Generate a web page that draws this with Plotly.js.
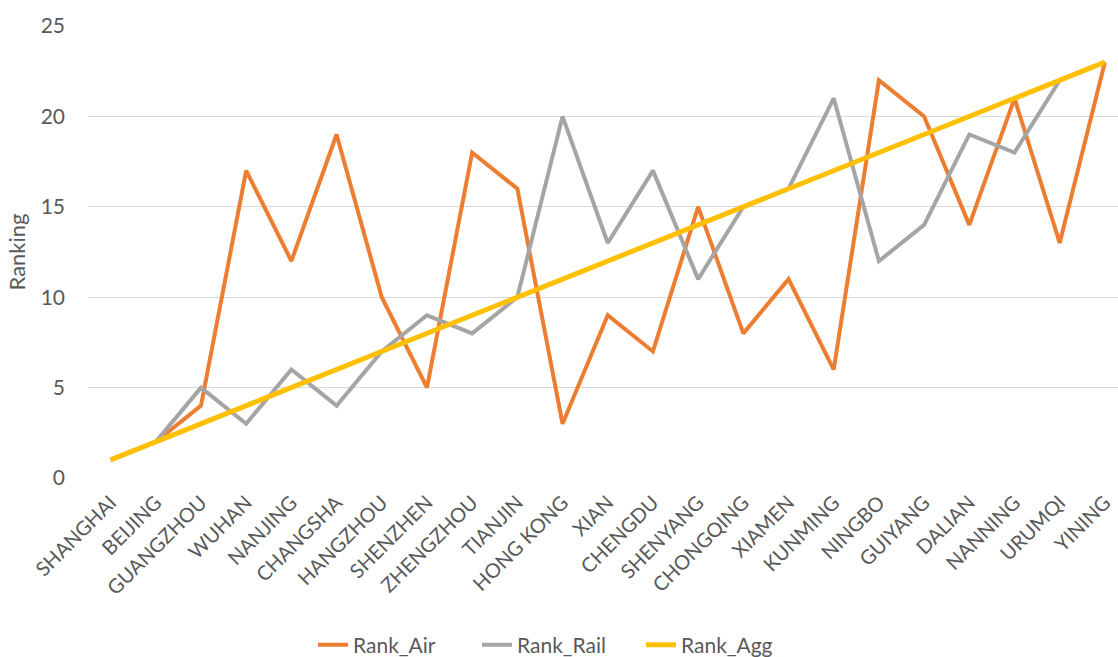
<!DOCTYPE html>
<html>
<head>
<meta charset="utf-8">
<script src="https://cdn.plot.ly/plotly-3.0.1.min.js"></script>
<style>html,body{margin:0;padding:0;background:#fff;}#chart{width:1118px;height:657px;}</style>
</head>
<body>
<div id="chart"></div>
<script>
const cities = ["SHANGHAI","BEIJING","GUANGZHOU","WUHAN","NANJING","CHANGSHA","HANGZHOU","SHENZHEN","ZHENGZHOU","TIANJIN","HONG KONG","XIAN","CHENGDU","SHENYANG","CHONGQING","XIAMEN","KUNMING","NINGBO","GUIYANG","DALIAN","NANNING","URUMQI","YINING"];
const rankAir  = [1,2,4,17,12,19,10,5,18,16,3,9,7,15,8,11,6,22,20,14,21,13,23];
const rankRail = [1,2,5,3,6,4,7,9,8,10,20,13,17,11,15,16,21,12,14,19,18,22,23];
const rankAgg  = [1,2,3,4,5,6,7,8,9,10,11,12,13,14,15,16,17,18,19,20,21,22,23];

const font = "Lato, 'Open Sans', sans-serif";
const traces = [
  {x: cities, y: rankAir, name: "Rank_Air", type: "scatter", mode: "lines", line: {color: "#ED7D31", width: 4}},
  {x: cities, y: rankRail, name: "Rank_Rail", type: "scatter", mode: "lines", line: {color: "#A5A5A5", width: 4}},
  {x: cities, y: rankAgg, name: "Rank_Agg", type: "scatter", mode: "lines", line: {color: "#FFC000", width: 5}}
];
const layout = {
  width: 1118, height: 657,
  paper_bgcolor: "#fff", plot_bgcolor: "#fff",
  margin: {l: 88, r: 0, t: 25.5, b: 178.7, autoexpand: false},
  font: {family: font, size: 20, color: "#595959"},
  showlegend: true,
  legend: {orientation: "h", xref: "container", yref: "container", x: 0.500, xanchor: "center", y: 0.018, yanchor: "middle", font: {size: 21, color: "#595959"}, traceorder: "normal", entrywidth: 119, entrywidthmode: "pixels"},
  xaxis: {type: "category", range: [-0.5, 22.29], tickangle: -45, showgrid: false, zeroline: false, showline: false, ticks: "", ticklabelstandoff: 8, tickfont: {size: 20, color: "#595959"}, automargin: false},
  yaxis: {range: [0, 25], dtick: 5, tick0: 0, showgrid: true, gridcolor: "#D9D9D9", gridwidth: 1.3, zeroline: false, showline: false, ticks: "", ticklabelstandoff: 22, tickfont: {size: 21, color: "#595959"}, automargin: false,
          title: {text: "Ranking", font: {size: 22, color: "#595959"}, standoff: 8}}
};
Plotly.newPlot("chart", traces, layout, {displayModeBar: false, staticPlot: true});
</script>
</body>
</html>
